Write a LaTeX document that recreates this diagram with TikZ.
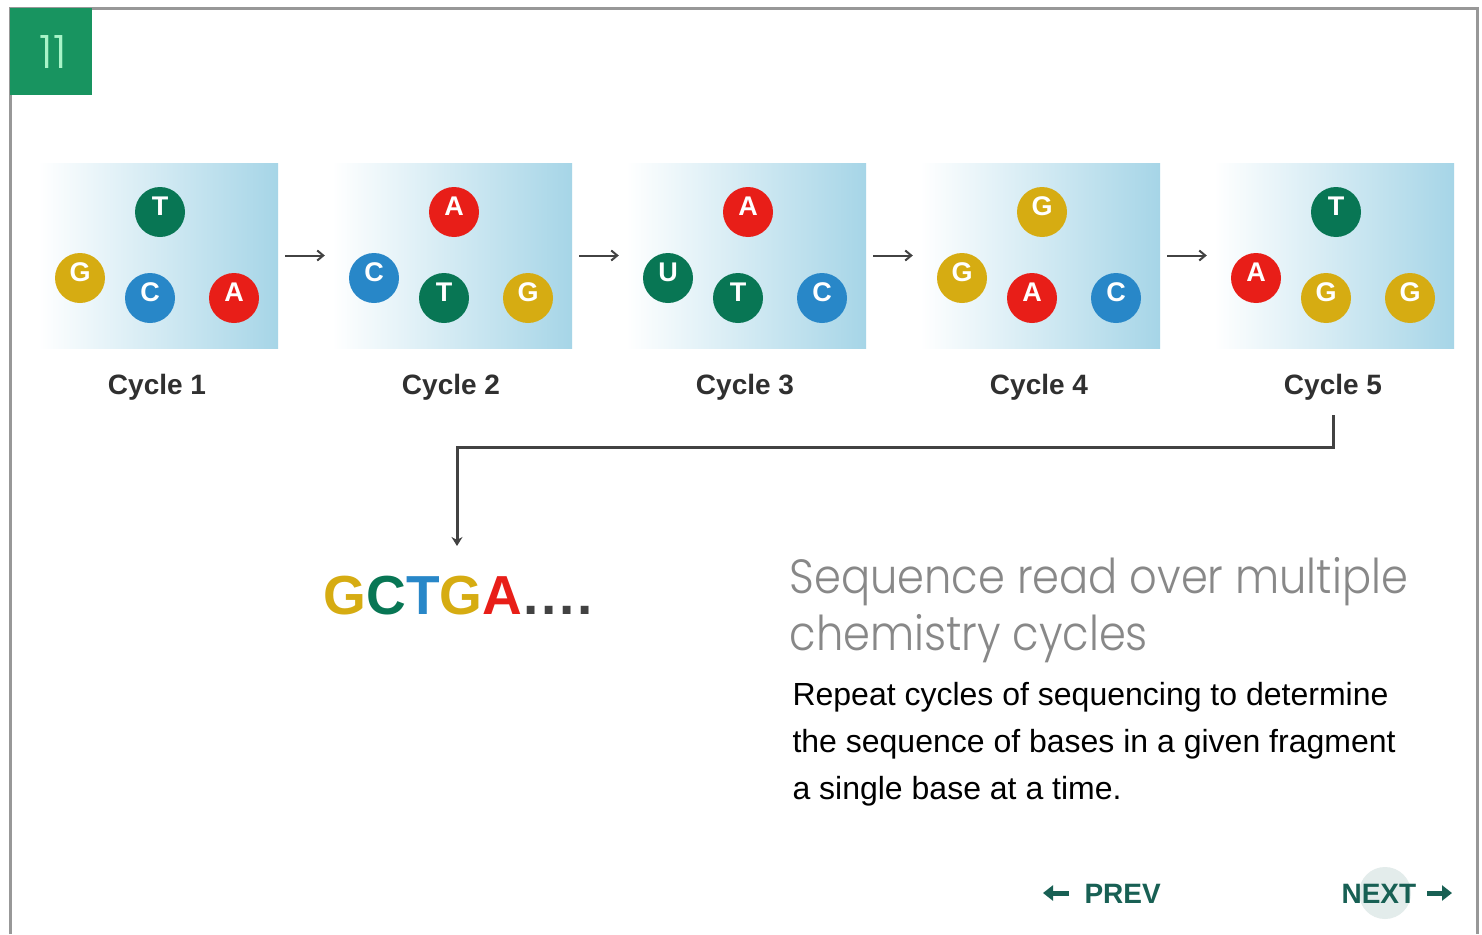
\documentclass[tikz,border=0pt]{standalone}
\usepackage{fontspec}
\setmainfont{Liberation Sans}
\newfontfamily\headfont{Poppins Light}[FakeStretch=0.9]
\newfontfamily\tabfont{Poppins Light}
\usetikzlibrary{arrows.meta}
\definecolor{basegreen}{RGB}{8,118,84}
\definecolor{basered}{RGB}{232,30,24}
\definecolor{baseblue}{RGB}{40,135,200}
\definecolor{baseyellow}{RGB}{214,172,18}
\definecolor{panelblue}{RGB}{166,213,231}
\definecolor{framegray}{RGB}{152,152,152}
\definecolor{tabgreen}{RGB}{24,148,96}
\definecolor{tabtext}{RGB}{168,244,200}
\definecolor{navgreen}{RGB}{24,96,84}
\definecolor{linegray}{RGB}{66,66,66}
\definecolor{labelgray}{RGB}{48,48,48}
\definecolor{headgray}{RGB}{136,136,136}
\begin{document}
\begin{tikzpicture}[x=1pt,y=-1pt,
  panel/.style={minimum width=240pt,minimum height=185pt,inner sep=0pt,left color=white,right color=panelblue},
  bead/.style={circle,fill=#1,minimum size=50pt,inner sep=0pt,text=white,text height=14pt,text depth=7pt,font=\bfseries\fontsize{27}{27}\selectfont},
  cyc/.style={anchor=base,text=labelgray,font=\bfseries\fontsize{28}{28}\selectfont},
  flow/.style={draw=linegray,line width=2pt,-{Straight Barb[length=6pt,width=10pt]},shorten <=7pt,shorten >=7pt},
  link/.style={draw=linegray,line width=3pt,-{Stealth[length=9pt,width=11pt]}},
  head/.style={anchor=base west,text=headgray,font=\headfont\fontsize{48}{48}\selectfont},
  body/.style={anchor=base west,text=black,font=\fontsize{32}{32}\selectfont},
  nav/.style={anchor=base west,text=navgreen,font=\bfseries\fontsize{28}{28}\selectfont},
  navarrow/.style={navgreen,line width=5pt,-{Triangle[length=10pt,width=15pt]}}]
\useasboundingbox[fill=white] (0,0) rectangle (1482,934);
\draw[framegray,line width=3pt] (10,934) -- (10,9) -- (1477,9) -- (1477,934);
\node[fill=tabgreen,minimum width=82pt,minimum height=87pt,inner sep=0pt] (tab) at (51,51.5) {};
\node[text=tabtext,font=\tabfont\fontsize{46}{46}\selectfont] (tabnum) at (53,52) {11};

\node[panel] (p1) at (158,255.5) {};
\node[panel] (p2) at (452,255.5) {};
\node[panel] (p3) at (746,255.5) {};
\node[panel] (p4) at (1040,255.5) {};
\node[panel] (p5) at (1334,255.5) {};
\draw[flow] (p1) -- (p2);
\draw[flow] (p2) -- (p3);
\draw[flow] (p3) -- (p4);
\draw[flow] (p4) -- (p5);

\node[bead=basegreen] (b1t) at (160,212) {T};
\node[bead=baseyellow] (b1l) at (80,278) {G};
\node[bead=baseblue] (b1m) at (150,298) {C};
\node[bead=basered] (b1r) at (234,298) {A};

\node[bead=basered] (b2t) at (454,212) {A};
\node[bead=baseblue] (b2l) at (374,278) {C};
\node[bead=basegreen] (b2m) at (444,298) {T};
\node[bead=baseyellow] (b2r) at (528,298) {G};

\node[bead=basered] (b3t) at (748,212) {A};
\node[bead=basegreen] (b3l) at (668,278) {U};
\node[bead=basegreen] (b3m) at (738,298) {T};
\node[bead=baseblue] (b3r) at (822,298) {C};

\node[bead=baseyellow] (b4t) at (1042,212) {G};
\node[bead=baseyellow] (b4l) at (962,278) {G};
\node[bead=basered] (b4m) at (1032,298) {A};
\node[bead=baseblue] (b4r) at (1116,298) {C};

\node[bead=basegreen] (b5t) at (1336,212) {T};
\node[bead=basered] (b5l) at (1256,278) {A};
\node[bead=baseyellow] (b5m) at (1326,298) {G};
\node[bead=baseyellow] (b5r) at (1410,298) {G};

\node[cyc] (c1) at (157,394) {Cycle 1};
\node[cyc] (c2) at (451,394) {Cycle 2};
\node[cyc] (c3) at (745,394) {Cycle 3};
\node[cyc] (c4) at (1039,394) {Cycle 4};
\node[cyc] (c5) at (1333,394) {Cycle 5};

\node[anchor=base west,font=\bfseries\fontsize{55}{55}\selectfont] (seq) at (320,614)
  {\textcolor{baseyellow}{G}\textcolor{basegreen}{C}\textcolor{baseblue}{T}\textcolor{baseyellow}{G}\textcolor{basered}{A}\textcolor{linegray}{\hspace{1pt}.\hspace{3pt}.\hspace{3pt}.\hspace{3pt}.}};
\coordinate (turn) at (457,447);
\coordinate (drop) at (457,546);
\draw[link,shorten <=12pt] (c5.south) |- (turn) -- (drop);

\node[head] (h1) at (786,593) {Sequence read over multiple};
\node[head] (h2) at (786,650) {chemistry cycles};
\node[body] (r1) at (789,705) {Repeat cycles of sequencing to determine};
\node[body] (r2) at (789,752) {the sequence of bases in a given fragment};
\node[body] (r3) at (789,799) {a single base at a time.};

\coordinate (prevtail) at (1069,893);
\coordinate (prevtip) at (1043,893);
\draw[navarrow] (prevtail) -- (prevtip);
\node[nav] (prev) at (1081,903) {PREV};
\fill[navgreen!12] (1385,893) circle (26);
\node[nav] (next) at (1338,903) {NEXT};
\coordinate (nexttail) at (1427,893);
\coordinate (nexttip) at (1452,893);
\draw[navarrow] (nexttail) -- (nexttip);
\end{tikzpicture}
\end{document}
